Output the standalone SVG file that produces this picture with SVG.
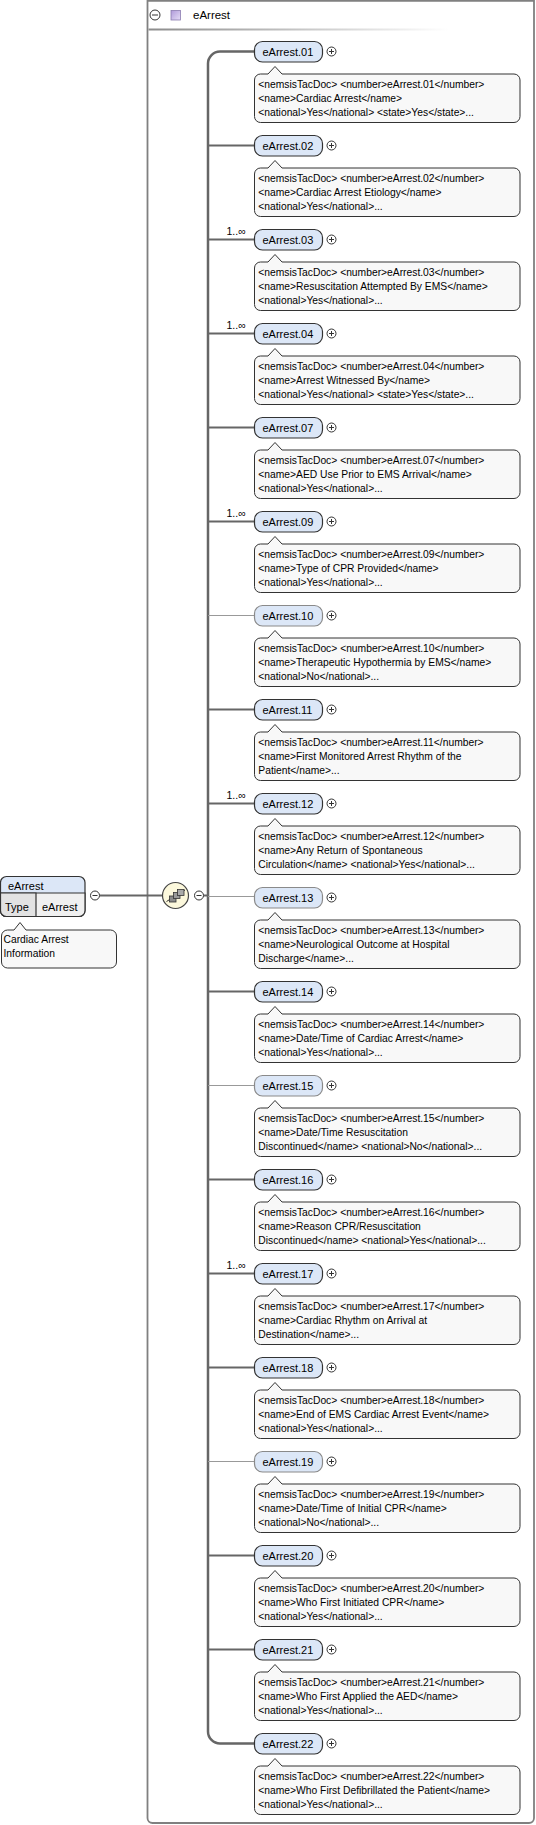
<svg xmlns="http://www.w3.org/2000/svg" width="536" height="1825" viewBox="0 0 536 1825">
<style>
text{font-family:"Liberation Sans",Arial,sans-serif;fill:#000}
.nm{font-size:11px}
.doc{font-size:10.3px}
.mul{font-size:10.5px}
.ebox{fill:#dce7f7;stroke:#333;stroke-width:1.2}
.ebox.opt{stroke:#8a8a8a}
.dbox{fill:#f8f8f8;stroke:#333;stroke-width:1}
.btn{fill:#fff;stroke:#333;stroke-width:1}
.req{stroke:#666;stroke-width:2;fill:none}
.opt-l{stroke:#999;stroke-width:1;fill:none}
</style>
<defs>
<linearGradient id="hdr" x1="0" y1="0" x2="1" y2="0">
<stop offset="0" stop-color="#8c8c8c"/>
<stop offset="1" stop-color="#ffffff"/>
</linearGradient>
<linearGradient id="purp" x1="0" y1="0" x2="1" y2="1">
<stop offset="0" stop-color="#b09ada"/>
<stop offset="1" stop-color="#e6def7"/>
</linearGradient>
<rect id="el" x="254.5" y="0.5" width="68" height="20.5" rx="8" ry="8"/>
<path id="dp" d="M260.5,33 H268 L275,25.5 L282,33 H514 A6 6 0 0 1 520,39 V75.5 A6 6 0 0 1 514,81.5 H260.5 A6 6 0 0 1 254.5,75.5 V39 A6 6 0 0 1 260.5,33 Z"/>
<g id="plus"><circle cx="331.5" cy="10.5" r="4.5" class="btn"/><path d="M329,10.5 H334 M331.5,8 V13" stroke="#333" stroke-width="1"/></g>
</defs>

<g id="frame">
<path d="M147.5,0.75 H534 V1818 A5 5 0 0 1 529,1823 H152.5 A5 5 0 0 1 147.5,1818 Z" fill="#fff" stroke="#808080" stroke-width="1.8"/>
<rect x="148.5" y="28.5" width="300" height="2" fill="url(#hdr)"/>
<circle cx="155" cy="15" r="5" class="btn"/>
<path d="M152,15 H158" stroke="#333" stroke-width="1"/>
<rect x="171" y="10.5" width="9.5" height="9.5" fill="url(#purp)" stroke="#8a7cb0" stroke-width="0.8"/>
<text x="193" y="19" style="font-size:11.5px">eArrest</text>
</g>

<g id="connectors">
<path d="M99.5,895.5 H162.5" class="req"/>
<path d="M203.5,895.5 H208" class="req"/>
<path d="M254.5,51.5 H220 A12 12 0 0 0 208,63.5 V1731.5 A12 12 0 0 0 220,1743.5 H254.5" stroke="#666" stroke-width="2.5" fill="none"/>
<path d="M208,145.5 H254.5 M208,239.5 H254.5 M208,333.5 H254.5 M208,427.5 H254.5 M208,521.5 H254.5 M208,709.5 H254.5 M208,803.5 H254.5 M208,991.5 H254.5 M208,1179.5 H254.5 M208,1273.5 H254.5 M208,1367.5 H254.5 M208,1555.5 H254.5 M208,1649.5 H254.5" class="req"/>
<path d="M208,615.5 H254.5 M208,896.5 H254.5 M208,1085.5 H254.5 M208,1461.5 H254.5" class="opt-l"/>
</g>

<g id="root">
<path d="M6.5,876.5 H79 A6 6 0 0 1 85,882.5 V910.5 A6 6 0 0 1 79,916.5 H6.5 A6 6 0 0 1 0.5,910.5 V882.5 A6 6 0 0 1 6.5,876.5 Z" fill="#dce7f7" stroke="#333" stroke-width="1.2"/>
<path d="M0.5,893 H85 V910.5 A6 6 0 0 1 79,916.5 H6.5 A6 6 0 0 1 0.5,910.5 Z" fill="#f0f0f0" stroke="#333" stroke-width="1.2"/>
<path d="M0.5,893 H36 V916.5 H6.5 A6 6 0 0 1 0.5,910.5 Z" fill="#e2e2e2" stroke="#333" stroke-width="1.2"/>
<text x="8" y="889.5" class="nm">eArrest</text>
<text x="5" y="910.5" class="nm">Type</text>
<text x="42" y="910.5" class="nm">eArrest</text>
<circle cx="95" cy="895.5" r="4.5" class="btn"/>
<path d="M92.5,895.5 H97.5" stroke="#333"/>
<path d="M7.5,930 H14 L20,922.5 L26,930 H110.5 A6 6 0 0 1 116.5,936 V962 A6 6 0 0 1 110.5,968 H7.5 A6 6 0 0 1 1.5,962 V936 A6 6 0 0 1 7.5,930 Z" class="dbox"/>
<text x="3.5" y="943.3" class="doc">Cardiac Arrest</text>
<text x="3.5" y="957" class="doc">Information</text>
</g>

<g id="sequence">
<circle cx="175.5" cy="895.5" r="13" fill="#fcf8dc" stroke="#444" stroke-width="1.2"/>
<path d="M166.5,901.5 L185,890" stroke="#333" stroke-width="1"/>
<rect x="169.5" y="896" width="6.5" height="6" fill="#8a8a8a" stroke="#333" stroke-width="0.8"/>
<rect x="173.5" y="892.5" width="6.5" height="6" fill="#9a9a9a" stroke="#333" stroke-width="0.8"/>
<rect x="177.5" y="889.5" width="6.5" height="6" fill="#aaa" stroke="#333" stroke-width="0.8"/>
<circle cx="199" cy="895.5" r="4.5" class="btn"/>
<path d="M196.5,895.5 H201.5" stroke="#333"/>
</g>

<g id="eArrest.01" transform="translate(0,41)">
<use href="#el" class="ebox"/><text x="262.5" y="14.5" class="nm">eArrest.01</text><use href="#plus"/>
<use href="#dp" class="dbox"/>
<text x="258.3" y="46.5" class="doc">&lt;nemsisTacDoc&gt; &lt;number&gt;eArrest.01&lt;/number&gt;</text>
<text x="258.3" y="60.5" class="doc">&lt;name&gt;Cardiac Arrest&lt;/name&gt;</text>
<text x="258.3" y="74.5" class="doc">&lt;national&gt;Yes&lt;/national&gt; &lt;state&gt;Yes&lt;/state&gt;...</text>
</g>
<g id="eArrest.02" transform="translate(0,135)">
<use href="#el" class="ebox"/><text x="262.5" y="14.5" class="nm">eArrest.02</text><use href="#plus"/>
<use href="#dp" class="dbox"/>
<text x="258.3" y="46.5" class="doc">&lt;nemsisTacDoc&gt; &lt;number&gt;eArrest.02&lt;/number&gt;</text>
<text x="258.3" y="60.5" class="doc">&lt;name&gt;Cardiac Arrest Etiology&lt;/name&gt;</text>
<text x="258.3" y="74.5" class="doc">&lt;national&gt;Yes&lt;/national&gt;...</text>
</g>
<g id="eArrest.03" transform="translate(0,229)">
<text x="226.5" y="6" class="mul">1..∞</text>
<use href="#el" class="ebox"/><text x="262.5" y="14.5" class="nm">eArrest.03</text><use href="#plus"/>
<use href="#dp" class="dbox"/>
<text x="258.3" y="46.5" class="doc">&lt;nemsisTacDoc&gt; &lt;number&gt;eArrest.03&lt;/number&gt;</text>
<text x="258.3" y="60.5" class="doc">&lt;name&gt;Resuscitation Attempted By EMS&lt;/name&gt;</text>
<text x="258.3" y="74.5" class="doc">&lt;national&gt;Yes&lt;/national&gt;...</text>
</g>
<g id="eArrest.04" transform="translate(0,323)">
<text x="226.5" y="6" class="mul">1..∞</text>
<use href="#el" class="ebox"/><text x="262.5" y="14.5" class="nm">eArrest.04</text><use href="#plus"/>
<use href="#dp" class="dbox"/>
<text x="258.3" y="46.5" class="doc">&lt;nemsisTacDoc&gt; &lt;number&gt;eArrest.04&lt;/number&gt;</text>
<text x="258.3" y="60.5" class="doc">&lt;name&gt;Arrest Witnessed By&lt;/name&gt;</text>
<text x="258.3" y="74.5" class="doc">&lt;national&gt;Yes&lt;/national&gt; &lt;state&gt;Yes&lt;/state&gt;...</text>
</g>
<g id="eArrest.07" transform="translate(0,417)">
<use href="#el" class="ebox"/><text x="262.5" y="14.5" class="nm">eArrest.07</text><use href="#plus"/>
<use href="#dp" class="dbox"/>
<text x="258.3" y="46.5" class="doc">&lt;nemsisTacDoc&gt; &lt;number&gt;eArrest.07&lt;/number&gt;</text>
<text x="258.3" y="60.5" class="doc">&lt;name&gt;AED Use Prior to EMS Arrival&lt;/name&gt;</text>
<text x="258.3" y="74.5" class="doc">&lt;national&gt;Yes&lt;/national&gt;...</text>
</g>
<g id="eArrest.09" transform="translate(0,511)">
<text x="226.5" y="6" class="mul">1..∞</text>
<use href="#el" class="ebox"/><text x="262.5" y="14.5" class="nm">eArrest.09</text><use href="#plus"/>
<use href="#dp" class="dbox"/>
<text x="258.3" y="46.5" class="doc">&lt;nemsisTacDoc&gt; &lt;number&gt;eArrest.09&lt;/number&gt;</text>
<text x="258.3" y="60.5" class="doc">&lt;name&gt;Type of CPR Provided&lt;/name&gt;</text>
<text x="258.3" y="74.5" class="doc">&lt;national&gt;Yes&lt;/national&gt;...</text>
</g>
<g id="eArrest.10" transform="translate(0,605)">
<use href="#el" class="ebox opt"/><text x="262.5" y="14.5" class="nm">eArrest.10</text><use href="#plus"/>
<use href="#dp" class="dbox"/>
<text x="258.3" y="46.5" class="doc">&lt;nemsisTacDoc&gt; &lt;number&gt;eArrest.10&lt;/number&gt;</text>
<text x="258.3" y="60.5" class="doc">&lt;name&gt;Therapeutic Hypothermia by EMS&lt;/name&gt;</text>
<text x="258.3" y="74.5" class="doc">&lt;national&gt;No&lt;/national&gt;...</text>
</g>
<g id="eArrest.11" transform="translate(0,699)">
<use href="#el" class="ebox"/><text x="262.5" y="14.5" class="nm">eArrest.11</text><use href="#plus"/>
<use href="#dp" class="dbox"/>
<text x="258.3" y="46.5" class="doc">&lt;nemsisTacDoc&gt; &lt;number&gt;eArrest.11&lt;/number&gt;</text>
<text x="258.3" y="60.5" class="doc">&lt;name&gt;First Monitored Arrest Rhythm of the</text>
<text x="258.3" y="74.5" class="doc">Patient&lt;/name&gt;...</text>
</g>
<g id="eArrest.12" transform="translate(0,793)">
<text x="226.5" y="6" class="mul">1..∞</text>
<use href="#el" class="ebox"/><text x="262.5" y="14.5" class="nm">eArrest.12</text><use href="#plus"/>
<use href="#dp" class="dbox"/>
<text x="258.3" y="46.5" class="doc">&lt;nemsisTacDoc&gt; &lt;number&gt;eArrest.12&lt;/number&gt;</text>
<text x="258.3" y="60.5" class="doc">&lt;name&gt;Any Return of Spontaneous</text>
<text x="258.3" y="74.5" class="doc">Circulation&lt;/name&gt; &lt;national&gt;Yes&lt;/national&gt;...</text>
</g>
<g id="eArrest.13" transform="translate(0,887)">
<use href="#el" class="ebox opt"/><text x="262.5" y="14.5" class="nm">eArrest.13</text><use href="#plus"/>
<use href="#dp" class="dbox"/>
<text x="258.3" y="46.5" class="doc">&lt;nemsisTacDoc&gt; &lt;number&gt;eArrest.13&lt;/number&gt;</text>
<text x="258.3" y="60.5" class="doc">&lt;name&gt;Neurological Outcome at Hospital</text>
<text x="258.3" y="74.5" class="doc">Discharge&lt;/name&gt;...</text>
</g>
<g id="eArrest.14" transform="translate(0,981)">
<use href="#el" class="ebox"/><text x="262.5" y="14.5" class="nm">eArrest.14</text><use href="#plus"/>
<use href="#dp" class="dbox"/>
<text x="258.3" y="46.5" class="doc">&lt;nemsisTacDoc&gt; &lt;number&gt;eArrest.14&lt;/number&gt;</text>
<text x="258.3" y="60.5" class="doc">&lt;name&gt;Date/Time of Cardiac Arrest&lt;/name&gt;</text>
<text x="258.3" y="74.5" class="doc">&lt;national&gt;Yes&lt;/national&gt;...</text>
</g>
<g id="eArrest.15" transform="translate(0,1075)">
<use href="#el" class="ebox opt"/><text x="262.5" y="14.5" class="nm">eArrest.15</text><use href="#plus"/>
<use href="#dp" class="dbox"/>
<text x="258.3" y="46.5" class="doc">&lt;nemsisTacDoc&gt; &lt;number&gt;eArrest.15&lt;/number&gt;</text>
<text x="258.3" y="60.5" class="doc">&lt;name&gt;Date/Time Resuscitation</text>
<text x="258.3" y="74.5" class="doc">Discontinued&lt;/name&gt; &lt;national&gt;No&lt;/national&gt;...</text>
</g>
<g id="eArrest.16" transform="translate(0,1169)">
<use href="#el" class="ebox"/><text x="262.5" y="14.5" class="nm">eArrest.16</text><use href="#plus"/>
<use href="#dp" class="dbox"/>
<text x="258.3" y="46.5" class="doc">&lt;nemsisTacDoc&gt; &lt;number&gt;eArrest.16&lt;/number&gt;</text>
<text x="258.3" y="60.5" class="doc">&lt;name&gt;Reason CPR/Resuscitation</text>
<text x="258.3" y="74.5" class="doc">Discontinued&lt;/name&gt; &lt;national&gt;Yes&lt;/national&gt;...</text>
</g>
<g id="eArrest.17" transform="translate(0,1263)">
<text x="226.5" y="6" class="mul">1..∞</text>
<use href="#el" class="ebox"/><text x="262.5" y="14.5" class="nm">eArrest.17</text><use href="#plus"/>
<use href="#dp" class="dbox"/>
<text x="258.3" y="46.5" class="doc">&lt;nemsisTacDoc&gt; &lt;number&gt;eArrest.17&lt;/number&gt;</text>
<text x="258.3" y="60.5" class="doc">&lt;name&gt;Cardiac Rhythm on Arrival at</text>
<text x="258.3" y="74.5" class="doc">Destination&lt;/name&gt;...</text>
</g>
<g id="eArrest.18" transform="translate(0,1357)">
<use href="#el" class="ebox"/><text x="262.5" y="14.5" class="nm">eArrest.18</text><use href="#plus"/>
<use href="#dp" class="dbox"/>
<text x="258.3" y="46.5" class="doc">&lt;nemsisTacDoc&gt; &lt;number&gt;eArrest.18&lt;/number&gt;</text>
<text x="258.3" y="60.5" class="doc">&lt;name&gt;End of EMS Cardiac Arrest Event&lt;/name&gt;</text>
<text x="258.3" y="74.5" class="doc">&lt;national&gt;Yes&lt;/national&gt;...</text>
</g>
<g id="eArrest.19" transform="translate(0,1451)">
<use href="#el" class="ebox opt"/><text x="262.5" y="14.5" class="nm">eArrest.19</text><use href="#plus"/>
<use href="#dp" class="dbox"/>
<text x="258.3" y="46.5" class="doc">&lt;nemsisTacDoc&gt; &lt;number&gt;eArrest.19&lt;/number&gt;</text>
<text x="258.3" y="60.5" class="doc">&lt;name&gt;Date/Time of Initial CPR&lt;/name&gt;</text>
<text x="258.3" y="74.5" class="doc">&lt;national&gt;No&lt;/national&gt;...</text>
</g>
<g id="eArrest.20" transform="translate(0,1545)">
<use href="#el" class="ebox"/><text x="262.5" y="14.5" class="nm">eArrest.20</text><use href="#plus"/>
<use href="#dp" class="dbox"/>
<text x="258.3" y="46.5" class="doc">&lt;nemsisTacDoc&gt; &lt;number&gt;eArrest.20&lt;/number&gt;</text>
<text x="258.3" y="60.5" class="doc">&lt;name&gt;Who First Initiated CPR&lt;/name&gt;</text>
<text x="258.3" y="74.5" class="doc">&lt;national&gt;Yes&lt;/national&gt;...</text>
</g>
<g id="eArrest.21" transform="translate(0,1639)">
<use href="#el" class="ebox"/><text x="262.5" y="14.5" class="nm">eArrest.21</text><use href="#plus"/>
<use href="#dp" class="dbox"/>
<text x="258.3" y="46.5" class="doc">&lt;nemsisTacDoc&gt; &lt;number&gt;eArrest.21&lt;/number&gt;</text>
<text x="258.3" y="60.5" class="doc">&lt;name&gt;Who First Applied the AED&lt;/name&gt;</text>
<text x="258.3" y="74.5" class="doc">&lt;national&gt;Yes&lt;/national&gt;...</text>
</g>
<g id="eArrest.22" transform="translate(0,1733)">
<use href="#el" class="ebox"/><text x="262.5" y="14.5" class="nm">eArrest.22</text><use href="#plus"/>
<use href="#dp" class="dbox"/>
<text x="258.3" y="46.5" class="doc">&lt;nemsisTacDoc&gt; &lt;number&gt;eArrest.22&lt;/number&gt;</text>
<text x="258.3" y="60.5" class="doc">&lt;name&gt;Who First Defibrillated the Patient&lt;/name&gt;</text>
<text x="258.3" y="74.5" class="doc">&lt;national&gt;Yes&lt;/national&gt;...</text>
</g>
</svg>
